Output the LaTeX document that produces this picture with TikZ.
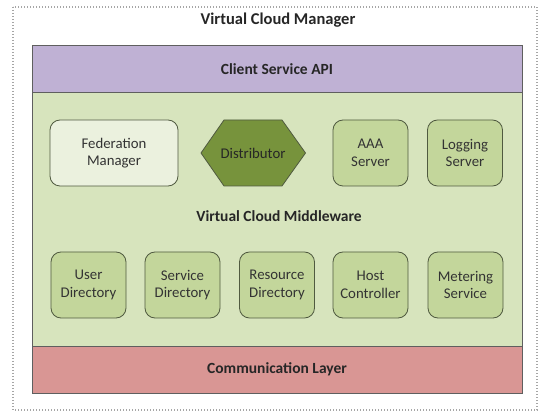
\documentclass[tikz,border=0pt]{standalone}
\usepackage{fontspec}
\setmainfont{Carlito}
\definecolor{purp}{HTML}{BFB1D4}
\definecolor{lgreen}{HTML}{D7E4BD}
\definecolor{mgreen}{HTML}{C3D69B}
\definecolor{pgreen}{HTML}{EBF1DE}
\definecolor{dgreen}{HTML}{77933C}
\definecolor{lred}{HTML}{D99694}
\definecolor{edge}{HTML}{505A40}
\definecolor{layeredge}{HTML}{5F5F5F}
\tikzset{
  layer/.style={draw=layeredge, line width=0.9pt},
  comptext/.style={align=center, font=\fontsize{14.8}{17.5}\selectfont, text=black!80},
  comp/.style={comptext, draw=edge, line width=0.8pt, rounded corners=10pt, fill=mgreen,
    minimum width=75pt, minimum height=66pt},
  lbl/.style={font=\bfseries\fontsize{15.5}{18}\selectfont, text=black!85},
}
\begin{document}
\begin{tikzpicture}[x=1pt,y=-1pt]
\useasboundingbox (0,0) rectangle (539,414);
\draw[gray!70, line width=1.1pt, dash pattern=on 1pt off 2pt] (13,7) rectangle (537,410);
\node[lbl, font=\bfseries\fontsize{16.5}{19}\selectfont] (title) at (278,20) {Virtual Cloud Manager};
% layers
\filldraw[layer, fill=purp] (32,45) rectangle (522,92);
\filldraw[layer, fill=lgreen] (32,92) rectangle (522,346);
\filldraw[layer, fill=lred] (32,346) rectangle (522,393);
\node[lbl] (api) at (277,69) {Client Service API};
\node[lbl] (mid) at (279,216) {Virtual Cloud Middleware};
\node[lbl] (comm) at (277,369) {Communication Layer};
% top row
\node[comp, fill=pgreen, minimum width=128pt] (fed) at (114,153) {Federation\\Manager};
\path[draw=edge, line width=0.8pt, fill=dgreen] (201,153) -- (224,120) -- (282,120) -- (305.5,153) -- (282,186) -- (224,186) -- cycle;
\node[comptext, text=black!85] (dist) at (253,153) {Distributor};
\node[comp] (aaa) at (370.5,153) {AAA\\Server};
\node[comp] (log) at (465,153) {Logging\\Server};
% bottom row
\node[comp] (user) at (88.5,285) {User\\Directory};
\node[comp] (serv) at (182.5,285) {Service\\Directory};
\node[comp] (res) at (277,285) {Resource\\Directory};
\node[comp] (host) at (370.5,285) {Host\\Controller};
\node[comp] (meter) at (465.5,285) {Metering\\Service};
\end{tikzpicture}
\end{document}
